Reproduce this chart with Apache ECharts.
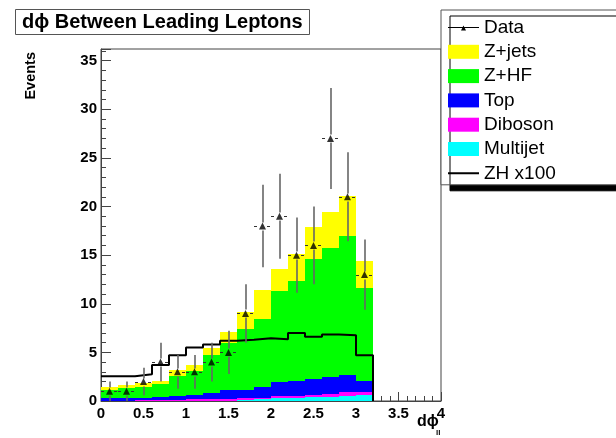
<!DOCTYPE html>
<html>
<head>
<meta charset="utf-8">
<script src="https://cdn.jsdelivr.net/npm/echarts@6/dist/echarts.min.js"></script>
<style>
  html, body { margin: 0; padding: 0; background: #fff; }
  #chart { width: 616px; height: 438px; }
</style>
</head>
<body>
<div id="chart"></div>
<script>
// Histogram binning of d(phi) between the two leading leptons
const binWidth = 0.2;
const binStarts = [0.0, 0.2, 0.4, 0.6, 0.8, 1.0, 1.2, 1.4, 1.6, 1.8, 2.0, 2.2, 2.4, 2.6, 2.8, 3.0];

// Observed events per bin
const dataCounts = [1, 1, 2, 4, 3, 3, 4, 5, 9, 18, 19, 15, 16, 27, 21, 13];

// Background expectations per bin (stacked bottom to top)
const multijet = [0.00, 0.00, 0.02, 0.03, 0.05, 0.05, 0.05, 0.05, 0.10, 0.20, 0.30, 0.30, 0.40, 0.40, 0.50, 0.65];
const diboson  = [0.05, 0.05, 0.06, 0.12, 0.10, 0.15, 0.15, 0.20, 0.20, 0.15, 0.25, 0.25, 0.25, 0.35, 0.40, 0.30];
const topQuark = [0.25, 0.25, 0.22, 0.30, 0.40, 0.40, 0.60, 0.85, 0.80, 1.05, 1.45, 1.55, 1.65, 1.75, 1.75, 1.15];
const zHF      = [0.80, 1.00, 1.15, 1.25, 2.00, 2.50, 3.95, 4.90, 6.30, 7.00, 9.30, 10.20, 12.30, 13.20, 14.35, 9.50];
const zJets    = [0.35, 0.30, 0.40, 0.40, 0.65, 0.65, 0.70, 1.10, 1.80, 3.00, 2.30, 2.80, 3.30, 3.70, 4.10, 2.80];

// ZH signal scaled by 100
const zh100 = [2.55, 2.55, 2.75, 3.70, 4.70, 5.50, 5.80, 6.20, 6.30, 6.45, 6.35, 7.00, 6.60, 6.85, 6.75, 4.70];

// Axis ranges and tick spacing
const xRange = [0, 4];
const xStep = 0.5;
const yRange = [0, 36.2];
const yStep = 5;

const font = 'Liberation Sans, Arial, Helvetica, sans-serif';

const layers = [
  { name: 'Multijet', values: multijet, color: '#00ffff' },
  { name: 'Diboson',  values: diboson,  color: '#ff00ff' },
  { name: 'Top',      values: topQuark, color: '#0000ff' },
  { name: 'Z+HF',     values: zHF,      color: '#00ff00' },
  { name: 'Z+jets',   values: zJets,    color: '#ffff00' }
];

// Build stacked rectangles: [xLow, xHigh, yBase, yTop]
const running = binStarts.map(() => 0);
const stackSeries = layers.map((layer) => {
  const rows = binStarts.map((x, i) => {
    const b = running[i];
    const t = b + layer.values[i];
    running[i] = t;
    return [x, x + binWidth, b, t];
  });
  return {
    type: 'custom',
    name: layer.name,
    z: 2,
    itemStyle: { color: layer.color },
    encode: { x: [0, 1], y: [2, 3] },
    data: rows,
    renderItem: function (params, api) {
      const p0 = api.coord([api.value(0), api.value(3)]);
      const p1 = api.coord([api.value(1), api.value(2)]);
      const x0 = Math.round(p0[0]), x1 = Math.round(p1[0]);
      const y0 = Math.round(p0[1]), y1 = Math.round(p1[1]);
      return {
        type: 'rect',
        shape: { x: x0, y: y0, width: x1 - x0, height: y1 - y0 },
        style: { fill: layer.color }
      };
    }
  };
});

// Step outline of the scaled signal
const zhLine = binStarts.map((x, i) => [x, zh100[i]]);
zhLine.push([binStarts[binStarts.length - 1] + binWidth, zh100[zh100.length - 1]]);
zhLine.push([binStarts[binStarts.length - 1] + binWidth, 0]);

const dataPoints = binStarts.map((x, i) => [x + binWidth / 2, dataCounts[i]]);

// Poisson error bars with a small gap around each marker
const errorSeries = {
  type: 'custom',
  name: 'Data',
  z: 4,
  itemStyle: { color: '#000' },
  encode: { x: 0, y: 1 },
  data: dataPoints,
  renderItem: function (params, api) {
    const x = api.value(0), n = api.value(1), e = Math.sqrt(n);
    const c = api.coord([x, n]);
    const up = api.coord([x, n + e]);
    const dn = api.coord([x, n - e]);
    const l = api.coord([x - binWidth / 2, n]);
    const r = api.coord([x + binWidth / 2, n]);
    const cx = Math.round(c[0]);
    const cy = Math.round(c[1]) + 0.5;
    const gap = 4;
    const vStyle = { stroke: '#666', lineWidth: 1.6 };
    const hStyle = { stroke: '#333', lineWidth: 1, lineDash: [3, 2] };
    return {
      type: 'group',
      children: [
        { type: 'line', shape: { x1: cx, y1: up[1], x2: cx, y2: cy - gap }, style: vStyle },
        { type: 'line', shape: { x1: cx, y1: cy + gap, x2: cx, y2: dn[1] }, style: vStyle },
        { type: 'line', shape: { x1: l[0], y1: cy, x2: cx - gap, y2: cy }, style: hStyle },
        { type: 'line', shape: { x1: cx + gap, y1: cy, x2: r[0], y2: cy }, style: hStyle }
      ]
    };
  }
};

// Legend icons sized to 31x14 (tiny corner dots pin the bounding box)
const pin = 'M0,0h0.01v0.01h-0.01Z M30.99,13.99h0.01v0.01h-0.01Z ';
const dataIcon = 'path://' + pin + 'M0,6.5h31v1h-31Z M13,10 L15.5,5 L18,10Z';
const lineIcon = 'path://' + pin + 'M0,6h31v2h-31Z';

const option = {
  animation: false,
  backgroundColor: '#fff',
  title: {
    text: 'd\u03d5 Between Leading Leptons',
    left: 15,
    top: 9,
    padding: [3, 7, 3, 7],
    borderColor: '#555',
    borderWidth: 1,
    backgroundColor: '#fff',
    textStyle: { fontFamily: font, fontWeight: 'bold', fontSize: 20, color: '#000' }
  },
  legend: {
    orient: 'vertical',
    left: 441,
    top: 10,
    padding: [8, 0, 2, 7],
    itemWidth: 31,
    itemHeight: 14,
    itemGap: 5.3,
    backgroundColor: '#fff',
    borderColor: '#555',
    borderWidth: 1,
    shadowColor: '#000',
    shadowBlur: 0,
    shadowOffsetX: 9,
    shadowOffsetY: 6,
    selectedMode: false,
    textStyle: { fontFamily: font, fontSize: 19, lineHeight: 19, color: '#000', width: 150 },
    data: [
      { name: 'Data', icon: dataIcon, itemStyle: { color: '#000' } },
      { name: 'Z+jets', icon: 'rect' },
      { name: 'Z+HF', icon: 'rect' },
      { name: 'Top', icon: 'rect' },
      { name: 'Diboson', icon: 'rect' },
      { name: 'Multijet', icon: 'rect' },
      { name: 'ZH x100', icon: lineIcon, itemStyle: { color: '#000' } }
    ]
  },
  grid: {
    left: 101,
    top: 49,
    width: 340,
    height: 352,
    show: true,
    borderColor: '#444',
    borderWidth: 1,
    backgroundColor: 'transparent'
  },
  xAxis: {
    type: 'value',
    min: xRange[0],
    max: xRange[1],
    interval: xStep,
    axisLine: { show: true, lineStyle: { color: '#444', width: 1 } },
    axisTick: { show: true, inside: true, length: 9, lineStyle: { color: '#444' } },
    minorTick: { show: true, splitNumber: 5, length: 5, lineStyle: { color: '#444' } },
    splitLine: { show: false },
    axisLabel: { margin: 5, fontFamily: font, fontWeight: 'bold', fontSize: 15, color: '#000' }
  },
  yAxis: {
    type: 'value',
    min: yRange[0],
    max: yRange[1],
    interval: yStep,
    axisLine: { show: true, lineStyle: { color: '#444', width: 1 } },
    axisTick: { show: true, inside: true, length: 10, lineStyle: { color: '#444' } },
    minorTick: { show: true, splitNumber: 5, length: 5, lineStyle: { color: '#444' } },
    splitLine: { show: false },
    axisLabel: {
      margin: 4,
      fontFamily: font,
      fontWeight: 'bold',
      fontSize: 15,
      color: '#000',
      formatter: function (v) { return (Math.abs(v % yStep) < 1e-9) ? String(v) : ''; }
    }
  },
  graphic: [
    {
      type: 'text',
      x: 31,
      y: 52,
      rotation: Math.PI / 2,
      style: { text: 'Events', fontFamily: font, fontWeight: 'bold', fontSize: 14.5, fill: '#000', align: 'right', verticalAlign: 'middle' }
    },
    {
      type: 'text',
      x: 417,
      y: 414,
      style: { text: 'd\u03d5', fontFamily: font, fontWeight: 'bold', fontSize: 16, fill: '#000', align: 'left', verticalAlign: 'top' }
    },
    {
      type: 'text',
      x: 436,
      y: 429,
      style: { text: 'll', fontFamily: font, fontWeight: 'bold', fontSize: 8, fill: '#000', align: 'left', verticalAlign: 'top' }
    }
  ],
  series: [
    ...stackSeries,
    {
      type: 'line',
      name: 'ZH x100',
      z: 3,
      step: 'end',
      symbol: 'none',
      data: zhLine,
      itemStyle: { color: '#000' },
      lineStyle: { color: '#000', width: 2 }
    },
    errorSeries,
    {
      type: 'scatter',
      name: 'Data',
      z: 5,
      symbol: 'triangle',
      symbolSize: 7,
      itemStyle: { color: '#000' },
      data: dataPoints
    }
  ]
};

const chart = echarts.init(document.getElementById('chart'), null, { renderer: 'canvas' });
chart.setOption(option);
</script>
</body>
</html>
